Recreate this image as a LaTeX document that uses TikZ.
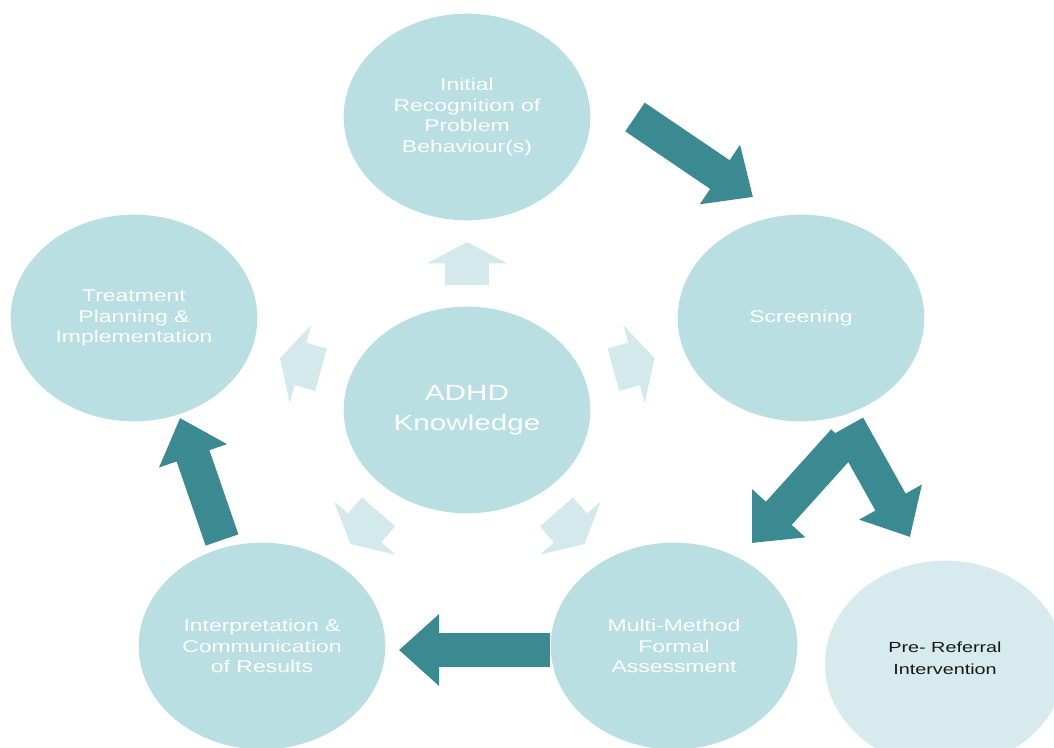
\documentclass[tikz,border=0pt]{standalone}
\usepackage{fontspec}
\newfontfamily\cyclefont{Liberation Sans}[FakeStretch=1.35]
\usetikzlibrary{shapes.geometric,arrows.meta,calc}
\definecolor{stagefill}{HTML}{B9DFE3}
\definecolor{sidefill}{HTML}{D7EBEE}
\definecolor{darkteal}{HTML}{3C8A91}
\definecolor{paleteal}{HTML}{D3E9EC}

\begin{document}
\begin{tikzpicture}[x=0.75pt,y=-0.75pt,
	stage/.style={ellipse,fill=stagefill,inner sep=0pt,minimum width=185pt,minimum height=155pt,
		align=center,text=white,font=\cyclefont\fontsize{12.75}{15.4}\selectfont},
	bigarrow/.style={draw=darkteal,line width=26pt,-{Triangle[length=30pt,width=52pt]},darkteal},
	smallarrow/.style={draw=paleteal,line width=33pt,-{Triangle[length=16pt,width=60pt]},paleteal}]
			\useasboundingbox (0,0) rectangle (1054,748);
			\clip (0,0) rectangle (1054,748);
			% the five stages round the middle
			\node[stage] (top) at (467,117) {Initial\\Recognition of\\Problem\\Behaviour(s)};
			\node[stage] (scr) at (801,318) {Screening};
			\node[stage] (trt) at (134,318) {Treatment\\Planning \&\\Implementation};
			\node[stage] (int) at (262,646) {Interpretation \&\\Communication\\of Results};
			\node[stage] (mul) at (674,646) {Multi-Method\\Formal\\Assessment};
			\node[stage,font=\cyclefont\fontsize{16.5}{22.5}\selectfont] (know) at (467,410) {ADHD\\Knowledge};
			\node[stage,fill=sidefill,minimum width=180pt,minimum height=155pt,text=black!90,
				font=\cyclefont\fontsize{11}{16.5}\selectfont] (pre) at (945,664) {};
			\node[text=black!90,align=center,font=\cyclefont\fontsize{11}{16.5}\selectfont] (pretext) at (945,658) {Pre- Referral\\Intervention};
			% pale arrows out of the middle
			\foreach \s in {top,scr,trt,int,mul} {
				\path (know) -- (\s) coordinate[pos=.5] (m\s);
				\draw[smallarrow] ($(m\s)!16pt!(know)$) -- ($(m\s)!16pt!(\s)$);
			}
			% the cycle
			\coordinate (a1) at (635,117);
			\coordinate (b1) at (753,197);
			\coordinate (a2) at (844,441);
			\coordinate (b2) at (752,543);
			\coordinate (a3) at (848,426);
			\coordinate (b3) at (910,537);
			\coordinate (b4) at (399,650);
			\coordinate (a5) at (222,540);
			\coordinate (b5) at (180,418);
			\draw[bigarrow] (a1) -- (b1);
			\draw[bigarrow] (a2) -- (b2);
			\draw[bigarrow] (a3) -- (b3);
			\draw[bigarrow] (mul.west |- b4) -- (b4);
			\draw[bigarrow] (a5) -- (b5);
\end{tikzpicture}
\end{document}
